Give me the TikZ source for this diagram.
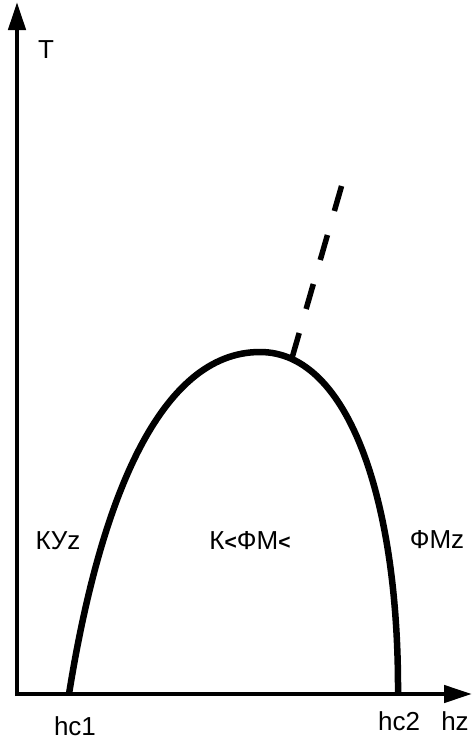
\documentclass[tikz,border=0pt]{standalone}
\usepackage{fontspec}
\setmainfont{Liberation Sans}
\usetikzlibrary{arrows.meta}
\begin{document}
\begin{tikzpicture}[x=1pt,y=-1pt,
  axis/.style={line width=4.5pt,-{Triangle[length=28pt,width=17pt]}},
  phase/.style={line width=6.5pt},
  lbl/.style={inner sep=0pt,font=\fontsize{26}{30}\selectfont}]
\useasboundingbox (0,0) rectangle (472,742);
\coordinate (O) at (17,694);
\coordinate (Ttip) at (17,2);
\coordinate (Htip) at (472,694);
\coordinate (xs) at (15,694);
\coordinate (hc1) at (69,694);
\coordinate (top) at (260,352);
\coordinate (hc2) at (398,694);
\coordinate (d1) at (292,358);
\coordinate (d2) at (343,181);
\draw[axis] (17,696) -- (Ttip);
\draw[axis] (xs) -- (Htip);
\draw[phase] (hc1) .. controls (100,500) and (160,352) .. (top)
  .. controls (350,352) and (399,505) .. (hc2);
\draw[line width=5.5pt,dash pattern=on 26pt off 25pt] (d1) -- (d2);
\node[lbl] (tl) at (46,50) {T};
\node[lbl] (l1) at (75,726) {hc1};
\node[lbl] (l2) at (399,721) {hc2};
\node[lbl] (l3) at (455,721) {hz};
\node[lbl] (k1) at (58,541) {КУz};
\node[lbl] (k2) at (250,541) {К{\fontsize{21}{21}\selectfont\bfseries <}ФМ{\fontsize{21}{21}\selectfont\bfseries <}};
\node[lbl] (k3) at (437,540) {ФМz};
\end{tikzpicture}
\end{document}
